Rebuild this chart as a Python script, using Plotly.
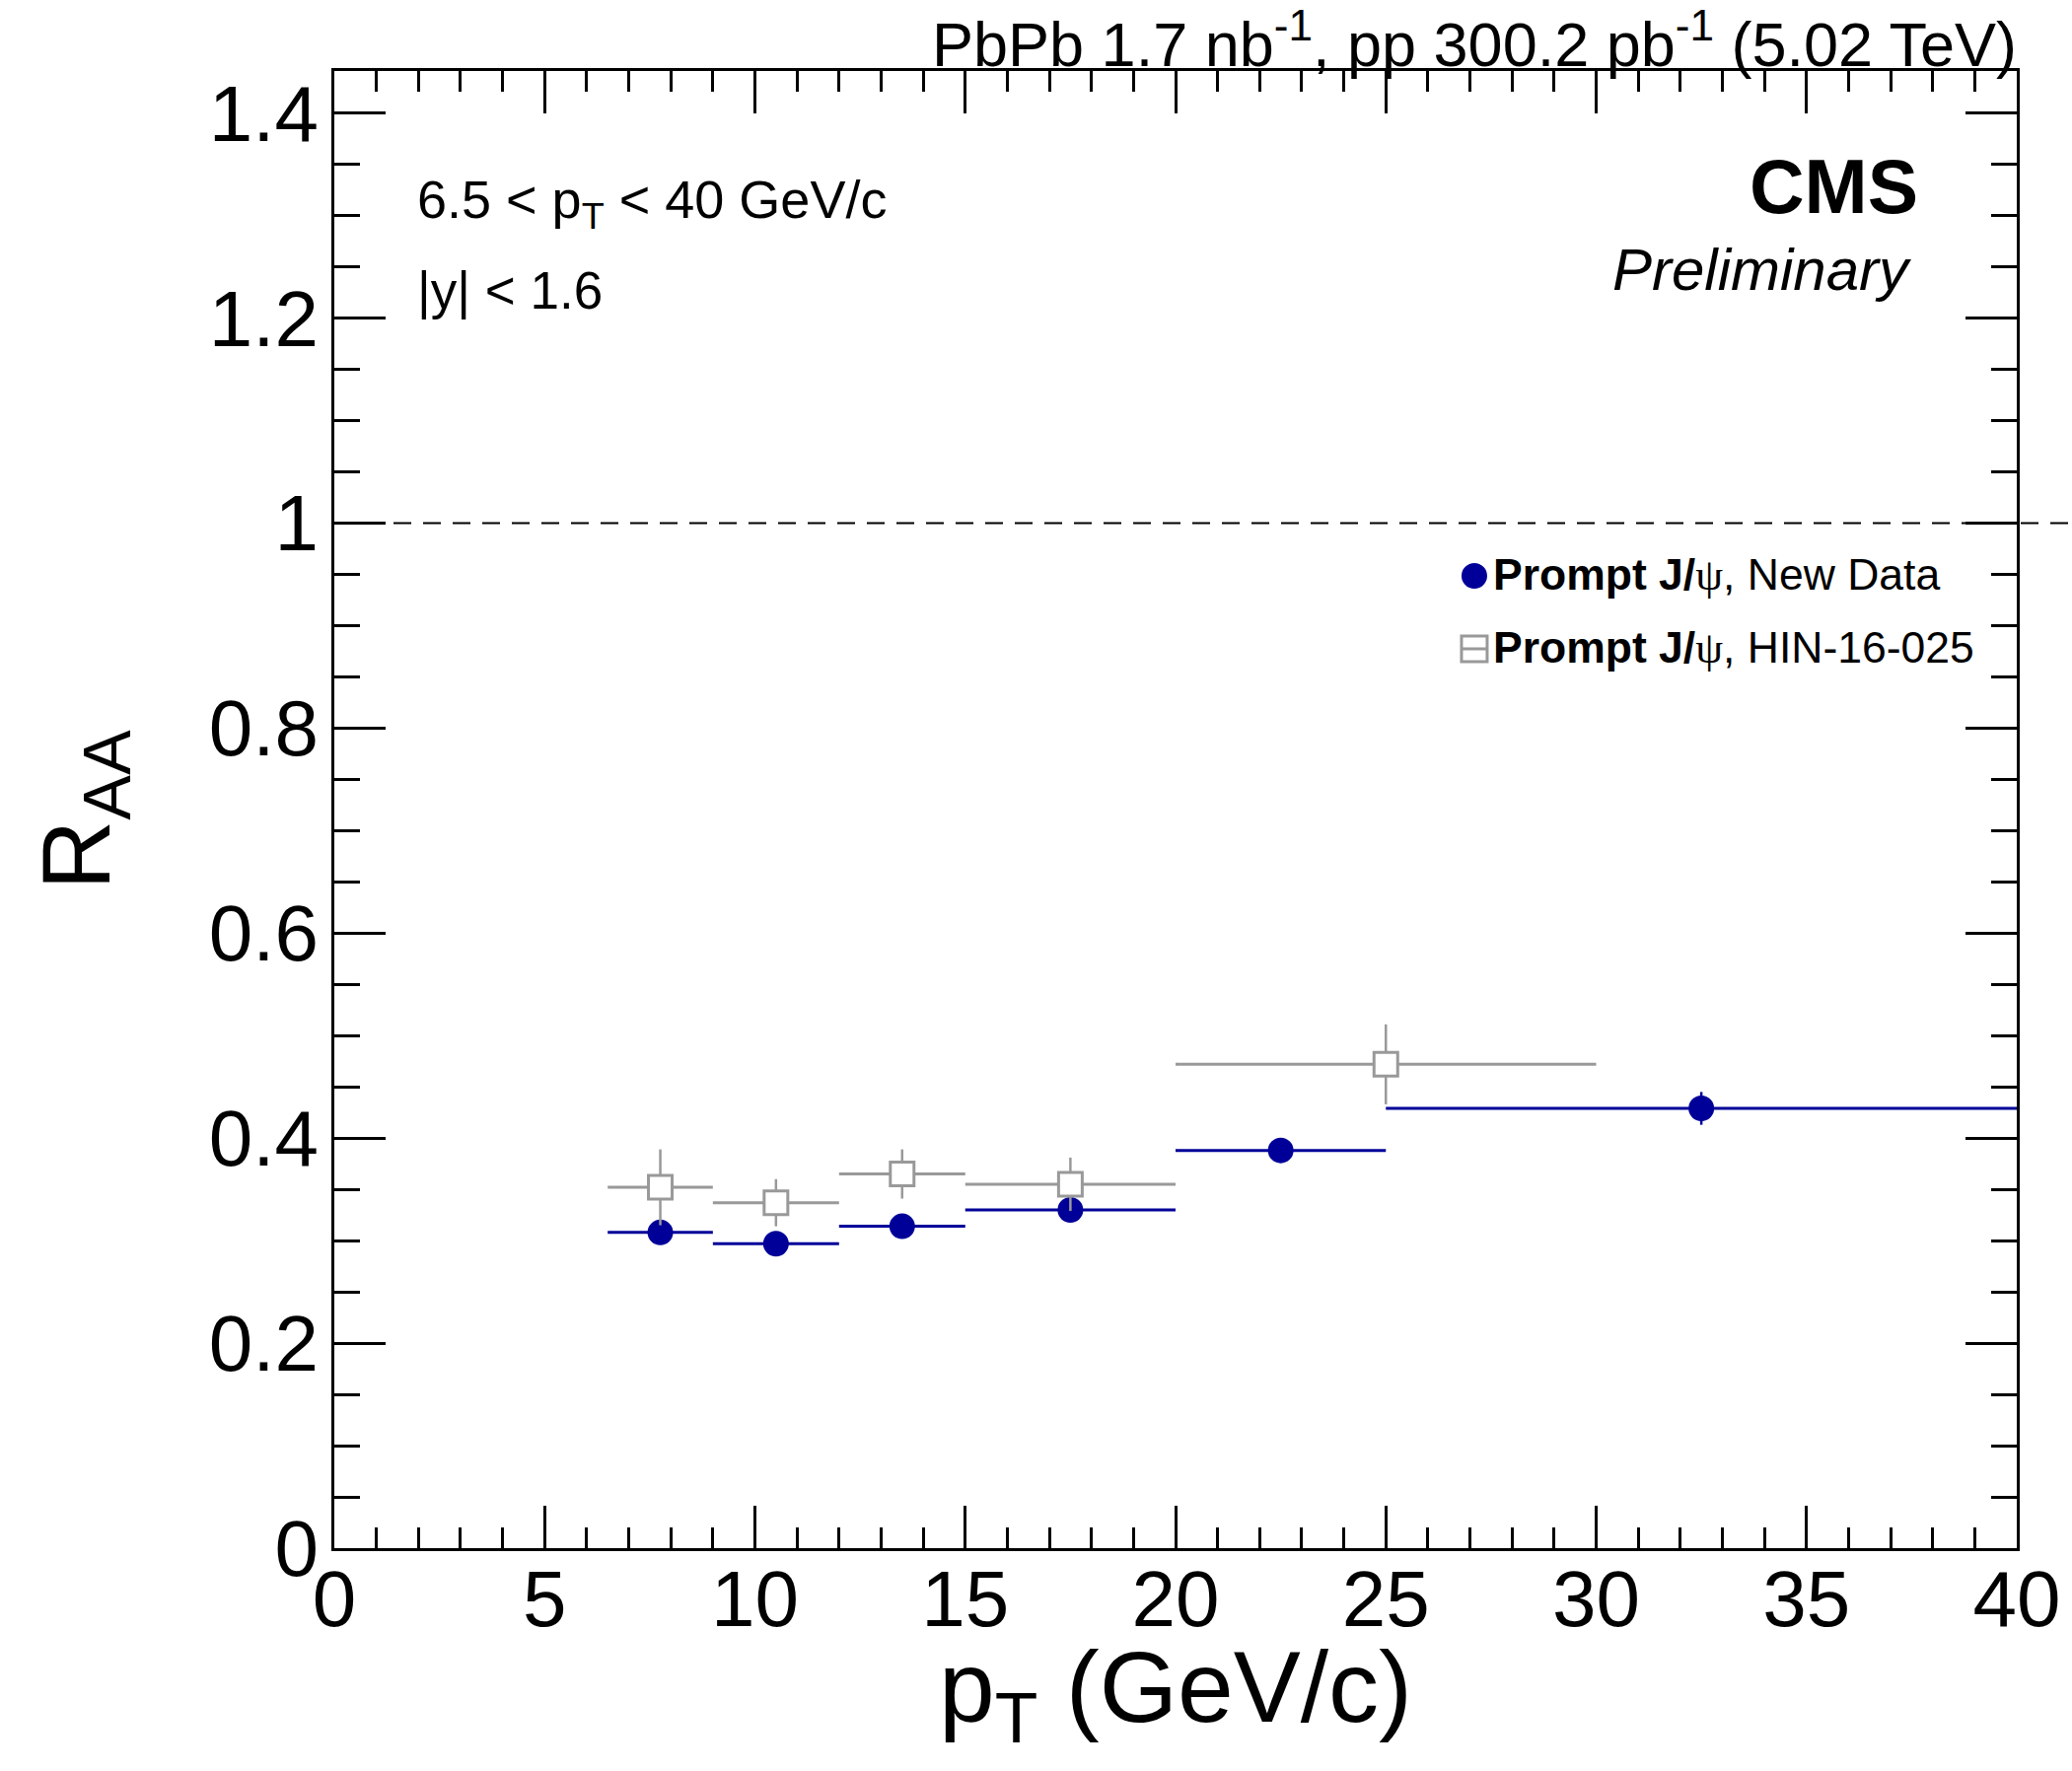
import plotly.graph_objects as go

# ---------------- data ----------------
# Prompt J/psi, New Data
new_pt_lo = [6.5, 9.0, 12.0, 15.0, 20.0, 25.0]
new_pt_hi = [9.0, 12.0, 15.0, 20.0, 25.0, 40.0]
new_pt = [7.75, 10.5, 13.5, 17.5, 22.5, 32.5]
new_raa = [0.308, 0.297, 0.314, 0.330, 0.388, 0.429]
new_raa_err = [0.010, 0.010, 0.010, 0.011, 0.011, 0.016]

# Prompt J/psi, HIN-16-025
old_pt_lo = [6.5, 9.0, 12.0, 15.0, 20.0]
old_pt_hi = [9.0, 12.0, 15.0, 20.0, 30.0]
old_pt = [7.75, 10.5, 13.5, 17.5, 25.0]
old_raa = [0.352, 0.337, 0.365, 0.355, 0.472]
old_raa_err = [0.037, 0.023, 0.024, 0.026, 0.039]

x_tickvals = [0, 5, 10, 15, 20, 25, 30, 35, 40]
y_tickvals = [0, 0.2, 0.4, 0.6, 0.8, 1.0, 1.2, 1.4]
x_range = [0, 40]
y_range = [0, 1.441]
unity = 1.0

# ---------------- styling ----------------
W, H = 2101, 1796
L, R, T, B = 339, 53, 72, 226
PW, PH = W - L - R, H - T - B
FONT = "Liberation Sans"
BLUE = "#000099"
GREY = "#999999"


def px_x(p):
    return (p - L) / PW


def px_y(p):
    return (H - B - p) / PH


fig = go.Figure()

fig.add_trace(go.Scatter(
    x=new_pt, y=new_raa, mode="markers",
    marker=dict(symbol="circle", size=26, color=BLUE, line=dict(width=0)),
    error_x=dict(type="data", symmetric=False,
                 array=[h - c for h, c in zip(new_pt_hi, new_pt)],
                 arrayminus=[c - l for l, c in zip(new_pt_lo, new_pt)],
                 color=BLUE, thickness=3, width=0),
    error_y=dict(type="data", array=new_raa_err, color=BLUE, thickness=2.5, width=0),
    showlegend=False, cliponaxis=False,
))

fig.add_trace(go.Scatter(
    x=old_pt, y=old_raa, mode="markers",
    marker=dict(symbol="square", size=24, color="white", line=dict(width=3, color=GREY)),
    error_x=dict(type="data", symmetric=False,
                 array=[h - c for h, c in zip(old_pt_hi, old_pt)],
                 arrayminus=[c - l for l, c in zip(old_pt_lo, old_pt)],
                 color=GREY, thickness=3, width=0),
    error_y=dict(type="data", array=old_raa_err, color=GREY, thickness=2.5, width=0),
    showlegend=False, cliponaxis=False,
))

axis_common = dict(
    showline=True, linewidth=3, linecolor="black", mirror="allticks",
    ticks="inside", tickwidth=2.5, tickcolor="black",
    showgrid=False, zeroline=False,
    tickfont=dict(family=FONT, size=80, color="black"),
)

fig.update_xaxes(range=x_range, tickvals=x_tickvals, ticklen=43,
                 minor=dict(dtick=1, ticklen=21, ticks="inside", tickwidth=2.5, tickcolor="black", showgrid=False),
                 ticklabelstandoff=-20, **axis_common)
fig.update_yaxes(range=y_range, tickvals=y_tickvals, ticklen=52,
                 minor=dict(dtick=0.05, ticklen=26, ticks="inside", tickwidth=2.5, tickcolor="black", showgrid=False),
                 ticklabelstandoff=-3, **axis_common)

shapes = [
    dict(type="line", xref="paper", yref="y", x0=0, x1=px_x(W + 5), y0=unity, y1=unity,
         line=dict(color="black", width=2, dash="18px,12px"), layer="above"),
    # legend symbols
    dict(type="circle", xref="paper", yref="paper", xsizemode="pixel", ysizemode="pixel",
         xanchor=px_x(1497), yanchor=px_y(584), x0=-13, x1=13, y0=-13, y1=13,
         fillcolor=BLUE, line=dict(width=0)),
    dict(type="rect", xref="paper", yref="paper", xsizemode="pixel", ysizemode="pixel",
         xanchor=px_x(1497), yanchor=px_y(658), x0=-13, x1=13, y0=-13, y1=13,
         fillcolor="white", line=dict(width=3, color=GREY)),
    dict(type="line", xref="paper", yref="paper", xsizemode="pixel", ysizemode="pixel",
         xanchor=px_x(1497), yanchor=px_y(658), x0=-13, x1=13, y0=0, y1=0,
         line=dict(width=3, color=GREY)),
]

PSI = '<span style="font-family:Liberation Serif">ψ</span>'


def ann(text, xp, yp, size, xanchor="left", yanchor="middle", **kw):
    return dict(text=text, x=px_x(xp), y=px_y(yp), xref="paper", yref="paper",
                xanchor=xanchor, yanchor=yanchor, showarrow=False,
                font=dict(family=FONT, size=size, color="black"), **kw)


annotations = [
    ann("PbPb 1.7 nb<sup>-1</sup>, pp 300.2 pb<sup>-1</sup> (5.02 TeV)", 2050, 82, 63,
        xanchor="right", yanchor="bottom"),
    ann("6.5 &lt; p<sub>T</sub> &lt; 40 GeV/c", 421, 170, 54, yanchor="top"),
    ann("|y| &lt; 1.6", 421, 294, 53),
    ann("<b>CMS</b>", 1950, 189, 77, xanchor="right"),
    ann("<i>Preliminary</i>", 1944, 273, 60, xanchor="right"),
    ann("<b>Prompt J/</b>" + PSI + ", New Data", 1514, 583, 44.5),
    ann("<b>Prompt J/</b>" + PSI + ", HIN-16-025", 1514, 657, 44.5),
    ann("p<sub>T</sub> (GeV/c)", (L + W - R) / 2, 1652, 102, xanchor="center", yanchor="top"),
    ann("R<sub>AA</sub>", 84, (T + H - B) / 2, 98, xanchor="center", textangle=-90),
]

fig.update_layout(
    width=W, height=H,
    margin=dict(l=L, r=R, t=T, b=B, pad=0),
    paper_bgcolor="white", plot_bgcolor="white",
    font=dict(family=FONT, color="black"),
    shapes=shapes, annotations=annotations,
    showlegend=False,
)

fig.write_html("out.html")
